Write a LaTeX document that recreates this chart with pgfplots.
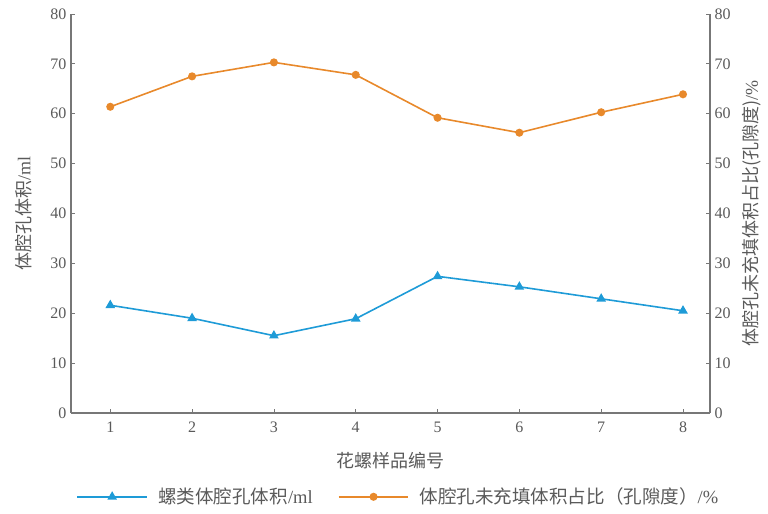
\documentclass[border=0pt]{standalone}
\usepackage{pgfplots}
\pgfplotsset{compat=1.18}
\usepackage{fontspec}
\setmainfont{Liberation Serif}
\newfontfamily\cjk{Noto Sans CJK SC}
\definecolor{cblue}{HTML}{1E9BD7}
\definecolor{corange}{HTML}{E8892B}
\definecolor{txt}{HTML}{5A5A5A}
\definecolor{axc}{HTML}{777777}
\begin{document}
\begin{tikzpicture}
\pgfplotsset{
  common/.style={
    scale only axis, width=479.25pt, height=299.25pt,
    xmin=0.52, xmax=8.33, ymin=0, ymax=80,
    ytick={0,10,...,80},
    tick align=inside, major tick length=3pt,
    tick style={axc, line width=0.6pt},
    axis line style={axc, line width=0.9pt},
    tick label style={font=\fontsize{12}{12}\selectfont, text=txt},
    label style={font=\fontsize{13.5}{13.5}\selectfont, text=txt},
    /pgf/number format/assume math mode=true,
  }
}
\begin{axis}[common,
  axis x line*=bottom, axis y line*=left,
  xtick={1,...,8},
  xticklabel style={yshift=-3pt},
  xlabel={{\cjk 花螺样品编号}},
  ylabel={{\cjk 体腔孔体积}/ml},
  ylabel shift=7pt,
  xlabel style={yshift=-8pt},
]
\coordinate (bl) at (rel axis cs:0,0);
\coordinate (tr) at (rel axis cs:1,1);
\addplot[cblue, line width=1.2pt, mark=triangle*, mark size=3pt] coordinates {
(1,21.6) (2,19.0) (3,15.5) (4,18.9) (5,27.4) (6,25.3) (7,22.9) (8,20.5)};
\end{axis}
\begin{axis}[common,
  axis x line=none, axis y line*=right,
  ylabel={{\cjk 体腔孔未充填体积占比(孔隙度)}/\%},
  ylabel shift=2pt,
  legend style={at={(0.513,-0.21)}, anchor=center, draw=none, fill=none,
    legend columns=2, font=\fontsize{13.9}{13.9}\selectfont, text=txt,
    /tikz/every even column/.append style={column sep=17pt},
    /tikz/every odd column/.append style={column sep=6pt}},
  legend image code/.code={\draw[#1] (0pt,0pt) -- (52pt,0pt); \draw[#1, mark repeat=2, mark phase=2] plot coordinates {(0pt,0pt) (26pt,0pt) (52pt,0pt)};},
]
\addlegendimage{cblue, line width=1.2pt, mark=triangle*, mark size=3pt}
\addlegendentry{{\cjk 螺类体腔孔体积}/ml}
\addplot[corange, line width=1.2pt, mark=*, mark size=2.4pt] coordinates {
(1,61.4) (2,67.5) (3,70.3) (4,67.8) (5,59.2) (6,56.2) (7,60.3) (8,63.9)};
\addlegendentry{{\cjk 体腔孔未充填体积占比（孔隙度）}/\%}
\end{axis}
\path ([shift={(-53.25pt,-75pt)}]bl) rectangle ([shift={(43.5pt,10.5pt)}]tr);
\end{tikzpicture}
\end{document}
